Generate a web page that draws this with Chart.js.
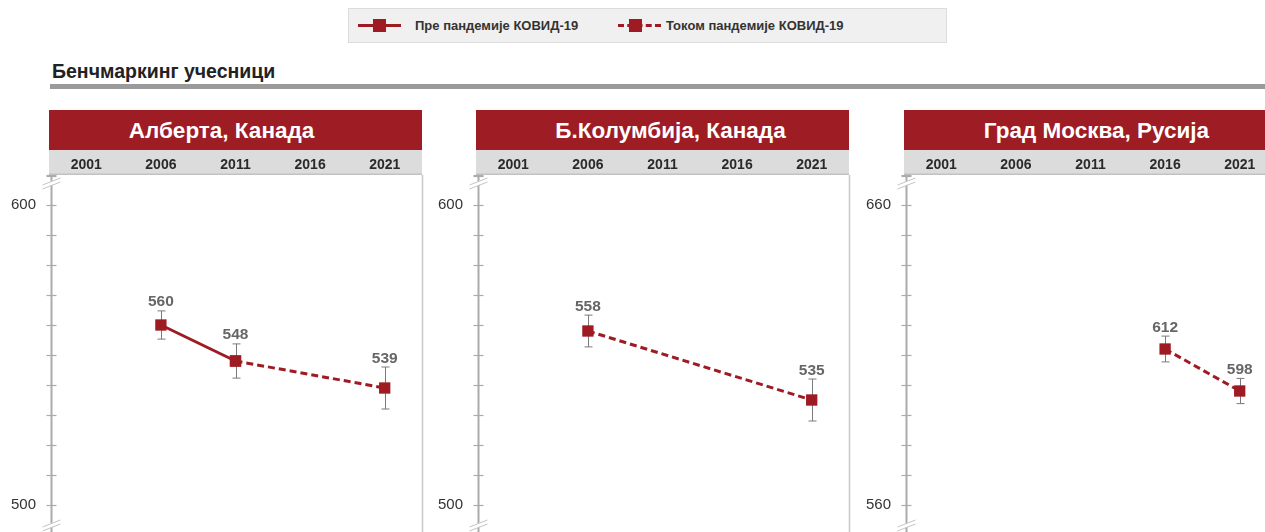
<!DOCTYPE html>
<html><head><meta charset="utf-8">
<script src="https://cdn.jsdelivr.net/npm/chart.js@4/dist/chart.umd.min.js"></script>
<style>
html,body{margin:0;padding:0}
body{width:1265px;height:532px;overflow:hidden;background:#fff;position:relative;font-family:"Liberation Sans",Arial,sans-serif;color:#333}
#legend{position:absolute;left:348px;top:8px;width:597px;height:33px;background:#f0f0f0;border:1px solid #dcdcdc}
.li{position:absolute;top:0;height:33px;line-height:34px;font-weight:bold;font-size:13px;color:#333;white-space:nowrap}
.sym{position:absolute;width:43px;height:0}
.sym.solid{border-top:3px solid #9e1b24;top:15px}
.sym.dash{border-top:3px dashed #9e1b24;top:15px}
.sq{position:absolute;width:13px;height:13px;background:#9e1b24;top:10px}
#title{position:absolute;left:52px;top:60px;font-weight:bold;font-size:19.5px;color:#222}
#rule{position:absolute;left:50px;top:84px;width:1215px;height:5px;background:#9a9a9a}
.hdr{position:absolute;top:110px;height:40px;width:373px;background:#9e1c24;color:#fff;font-weight:bold;font-size:22.5px;line-height:41px;text-align:center}
.hdr span{position:relative}
.cw{position:absolute;top:150px;width:425px;height:382px}
canvas{display:block}
</style></head><body>
<div id="legend">
  <div class="sym solid" style="left:9px"></div><div class="sq" style="left:24px"></div>
  <div class="li" style="left:66px" id="lg0"></div>
  <div class="sym dash" style="left:269px"></div><div class="sq" style="left:280px"></div>
  <div class="li" style="left:317px" id="lg1"></div>
</div>
<div id="title"></div>
<div id="rule"></div>
<div id="panels"></div>
<script>
// ---- data ----
const years = ['2001','2006','2011','2016','2021'];
const seriesNames = ['Пре пандемије КОВИД-19','Током пандемије КОВИД-19'];
const sectionTitle = 'Бенчмаркинг учесници';
const panelTitles = ['Алберта, Канада','Б.Колумбија, Канада','Град Москва, Русија'];

const albertaPre     = [null, 560, 548, null, null];
const albertaDuring  = [null, null, 548, null, 539];
const albertaErr     = [null, 4.7, 5.7, null, 7.0];

const bcPre          = [null, null, null, null, null];
const bcDuring       = [null, 558, null, null, 535];
const bcErr          = [null, 5.3, null, null, 7.0];

const moscowPre      = [null, null, null, null, null];
const moscowDuring   = [null, null, null, 612, 598];
const moscowErr      = [null, null, null, 4.3, 4.2];

const axisMin = [491, 491, 551];
const axisMax = [610, 610, 670];
const labeledTicks = [[500, 600], [500, 600], [560, 660]];
const tickStep = 10;

// ---- page text ----
document.getElementById('lg0').textContent = seriesNames[0];
document.getElementById('lg1').textContent = seriesNames[1];
document.getElementById('title').textContent = sectionTitle;

const RED = '#9e1b24';
const panelLefts = [49, 476, 904];
const titleShift = [-14, 8, 6];
const AXIS_X = 51.5;
const panels = [
  {pre: albertaPre, during: albertaDuring, err: albertaErr},
  {pre: bcPre, during: bcDuring, err: bcErr},
  {pre: moscowPre, during: moscowDuring, err: moscowErr}
];

const decor = {
  id: 'decor',
  beforeDraw(chart) {
    const ctx = chart.ctx, x = chart.scales.x, ca = chart.chartArea;
    ctx.save();
    ctx.fillStyle = '#dcdcdc';
    ctx.fillRect(49, x.top, 373, x.bottom - x.top);
    ctx.fillStyle = '#c2c2c2';
    ctx.fillRect(49, x.bottom - 1.5, 373, 1.5);
    ctx.strokeStyle = '#c8c8c8';
    ctx.lineWidth = 1.5;
    ctx.beginPath(); ctx.moveTo(422.5, ca.top); ctx.lineTo(422.5, ca.bottom); ctx.stroke();
    ctx.restore();
  },
  beforeDatasetsDraw(chart) {
    const ctx = chart.ctx, y = chart.scales.y, ca = chart.chartArea;
    ctx.save();
    ctx.strokeStyle = '#ababab';
    ctx.lineWidth = 2;
    ctx.beginPath(); ctx.moveTo(AXIS_X, ca.top); ctx.lineTo(AXIS_X, ca.bottom); ctx.stroke();
    ctx.lineWidth = 1.2;
    for (let v = Math.ceil(y.min / tickStep) * tickStep; v <= y.max; v += tickStep) {
      const py = Math.round(y.getPixelForValue(v)) + 0.5;
      ctx.beginPath(); ctx.moveTo(AXIS_X - 5, py); ctx.lineTo(AXIS_X + 5, py); ctx.stroke();
    }
    const top = Math.round(ca.top) + 1.5;
    ctx.beginPath(); ctx.moveTo(AXIS_X - 5, top); ctx.lineTo(AXIS_X + 5, top); ctx.stroke();
    const brk = (cy) => {
      ctx.fillStyle = '#fff';
      ctx.beginPath();
      ctx.moveTo(AXIS_X - 7, cy + 5); ctx.lineTo(AXIS_X + 7, cy - 1); ctx.lineTo(AXIS_X + 7, cy - 5); ctx.lineTo(AXIS_X - 7, cy + 1); ctx.closePath();
      ctx.fill();
      ctx.strokeStyle = '#c4c4c4'; ctx.lineWidth = 1;
      ctx.beginPath(); ctx.moveTo(AXIS_X - 9, cy + 6); ctx.lineTo(AXIS_X + 9, cy - 1); ctx.stroke();
      ctx.beginPath(); ctx.moveTo(AXIS_X - 9, cy + 2); ctx.lineTo(AXIS_X + 9, cy - 5); ctx.stroke();
    };
    brk(ca.top + 8);
    brk(ca.bottom - 7);
    ctx.restore();
  }
};

const errLabels = {
  id: 'errLabels',
  beforeDatasetsDraw(chart, args, opts) {
    const ctx = chart.ctx, x = chart.scales.x, y = chart.scales.y, p = opts.panel;
    ctx.save();
    ctx.strokeStyle = '#7a7a7a'; ctx.lineWidth = 1;
    years.forEach((yr, i) => {
      const v = p.pre[i] ?? p.during[i];
      const e = p.err[i];
      if (v == null || e == null) return;
      const px = Math.round(x.getPixelForValue(i)) + 0.5;
      const t = y.getPixelForValue(v + e), b = y.getPixelForValue(v - e);
      ctx.beginPath();
      ctx.moveTo(px, t); ctx.lineTo(px, b);
      ctx.moveTo(px - 4, t); ctx.lineTo(px + 4, t);
      ctx.moveTo(px - 4, b); ctx.lineTo(px + 4, b);
      ctx.stroke();
    });
    ctx.restore();
  },
  afterDatasetsDraw(chart, args, opts) {
    const ctx = chart.ctx, x = chart.scales.x, y = chart.scales.y, p = opts.panel;
    ctx.save();
    ctx.fillStyle = '#666';
    ctx.font = 'bold 15.5px "Liberation Sans", Arial, sans-serif';
    ctx.textAlign = 'center'; ctx.textBaseline = 'bottom';
    years.forEach((yr, i) => {
      const v = p.pre[i] ?? p.during[i];
      const e = p.err[i] ?? 0;
      if (v == null) return;
      const px = x.getPixelForValue(i);
      const t = y.getPixelForValue(v + e);
      ctx.fillText(String(v), px, t - 1);
    });
    ctx.restore();
  }
};

const container = document.getElementById('panels');
panels.forEach((p, k) => {
  const h = document.createElement('div');
  h.className = 'hdr';
  h.style.left = panelLefts[k] + 'px';
  const sp = document.createElement('span');
  sp.style.left = titleShift[k] + 'px';
  sp.textContent = panelTitles[k];
  h.appendChild(sp);
  container.appendChild(h);

  const w = document.createElement('div');
  w.className = 'cw';
  w.style.left = (panelLefts[k] - 49) + 'px';
  const c = document.createElement('canvas');
  c.width = 425; c.height = 382;
  w.appendChild(c);
  container.appendChild(w);

  new Chart(c, {
    type: 'line',
    data: {
      labels: years,
      datasets: [
        {label: seriesNames[0], data: p.pre, borderColor: RED, backgroundColor: RED, borderWidth: 3,
         pointStyle: 'rect', pointRadius: 8, pointBorderWidth: 0, spanGaps: true, fill: false},
        {label: seriesNames[1], data: p.during, borderColor: RED, backgroundColor: RED, borderWidth: 3,
         borderDash: [7, 4], pointStyle: 'rect', pointRadius: 8, pointBorderWidth: 0, spanGaps: true, fill: false}
      ]
    },
    options: {
      responsive: false,
      animation: false,
      events: [],
      layout: {autoPadding: false, padding: {top: 0, bottom: 0, left: 0, right: 3}},
      plugins: {
        legend: {display: false},
        tooltip: {enabled: false},
        errLabels: {panel: p}
      },
      scales: {
        x: {
          position: 'top',
          offset: true,
          afterFit(s) { s.height = 25; s.paddingLeft = 0; s.paddingRight = 0; },
          grid: {display: false, drawTicks: false, offset: true},
          border: {display: false},
          ticks: {color: '#2a2a2a', font: {family: '"Liberation Sans", Arial, sans-serif', size: 14, weight: 'bold'}, padding: 1, maxRotation: 0, autoSkip: false}
        },
        y: {
          min: axisMin[k], max: axisMax[k],
          afterFit(s) { s.width = 49; s.paddingTop = 0; s.paddingBottom = 0; },
          grid: {display: false, drawTicks: false},
          border: {display: false},
          ticks: {
            stepSize: tickStep, autoSkip: false, padding: 13, color: '#333',
            font: {family: '"Liberation Sans", Arial, sans-serif', size: 15},
            callback: (v) => labeledTicks[k].includes(v) ? String(v) : ''
          }
        }
      }
    },
    plugins: [decor, errLabels]
  });
});
</script>
</body></html>
